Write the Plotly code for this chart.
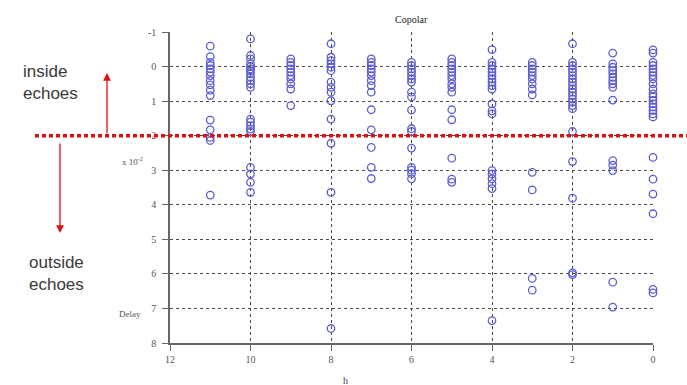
import plotly.graph_objects as go

# Delay values (x 10^-2) observed for each h
h_values = [11, 10, 9, 8, 7, 6, 5, 4, 3, 2, 1, 0]

delay_h11 = [-0.59, -0.29, -0.12, -0.03, 0.07, 0.16, 0.26, 0.41, 0.53, 0.68, 0.84,
             1.55, 1.83, 2.05, 2.14, 3.72]
delay_h10 = [-0.80, -0.32, -0.22, -0.08, 0.0, 0.07, 0.14, 0.21, 0.31, 0.41, 0.50, 0.60,
             1.52, 1.61, 1.71, 1.81, 1.88, 2.92, 3.11, 3.35, 3.64]
delay_h9 = [-0.22, -0.12, -0.03, 0.07, 0.16, 0.26, 0.36, 0.50, 0.65, 1.13]
delay_h8 = [-0.66, -0.27, -0.17, -0.08, 0.02, 0.12, 0.45, 0.60, 0.74, 0.99,
            1.52, 2.22, 3.64, 7.58]
delay_h7 = [-0.22, -0.12, -0.03, 0.07, 0.16, 0.26, 0.41, 0.55, 0.74,
            1.25, 1.83, 2.34, 2.92, 3.24]
delay_h6 = [-0.12, -0.03, 0.07, 0.16, 0.26, 0.36, 0.45, 0.74, 0.88, 1.26,
            1.80, 1.88, 2.36, 2.92, 3.00, 3.10, 3.25]
delay_h5 = [-0.22, -0.12, -0.03, 0.07, 0.16, 0.26, 0.36, 0.50, 0.60, 0.74,
            1.25, 1.54, 2.65, 3.26, 3.35]
delay_h4 = [-0.49, -0.12, -0.03, 0.07, 0.16, 0.26, 0.36, 0.45, 0.55, 0.65,
            1.08, 1.28, 1.37, 3.01, 3.11, 3.25, 3.39, 3.53, 7.35]
delay_h3 = [-0.12, -0.03, 0.07, 0.16, 0.26, 0.36, 0.50, 0.65, 0.82,
            3.06, 3.57, 6.13, 6.47]
delay_h2 = [-0.66, -0.12, -0.03, 0.07, 0.16, 0.26, 0.36, 0.45, 0.55, 0.65, 0.74,
            0.84, 0.94, 1.03, 1.13, 1.22, 1.88, 2.75, 3.81, 5.97, 6.02]
delay_h1 = [-0.39, -0.08, 0.02, 0.12, 0.21, 0.31, 0.41, 0.50, 0.60, 0.97,
            2.72, 2.85, 3.01, 6.24, 6.96]
delay_h0 = [-0.48, -0.39, -0.12, -0.03, 0.07, 0.16, 0.26, 0.36, 0.50, 0.65, 0.79,
            0.88, 0.98, 1.08, 1.17, 1.27, 1.37, 1.46, 2.63, 3.26, 3.69, 4.26,
            6.45, 6.55]

delay_columns = [delay_h11, delay_h10, delay_h9, delay_h8, delay_h7, delay_h6,
                 delay_h5, delay_h4, delay_h3, delay_h2, delay_h1, delay_h0]

x_ticks = [12, 10, 8, 6, 4, 2, 0]
y_ticks = [-1, 0, 1, 2, 3, 4, 5, 6, 7, 8]
threshold_delay = 2

xs, ys = [], []
for h, col in zip(h_values, delay_columns):
    xs.extend([h] * len(col))
    ys.extend(col)

fig = go.Figure()
fig.add_trace(go.Scatter(
    x=xs, y=ys, mode="markers", cliponaxis=False, showlegend=False,
    marker=dict(symbol="circle-open", size=7.5, color="#5c5cd2",
                line=dict(width=1.3, color="#5c5cd2")),
))

# red threshold line separating inside and outside echoes
fig.add_shape(type="line", xref="paper", yref="y",
              x0=-0.2795, x1=1.0704, y0=threshold_delay, y1=threshold_delay,
              line=dict(color="#e01010", width=3.5, dash="4px,3px"), layer="above")

grid_style = dict(showgrid=True, gridcolor="#4a4a4a", gridwidth=1, griddash="3px,3px",
                  zeroline=False, showline=True, linecolor="#666666", linewidth=1.5,
                  ticks="outside", ticklen=6, tickcolor="#666666",
                  tickfont=dict(family="Liberation Serif", size=10, color="#555555"))

fig.update_xaxes(range=[12, 0], tickvals=x_ticks, ticktext=[str(v) for v in x_ticks],
                 **grid_style)
fig.update_yaxes(range=[8, -1], tickvals=y_ticks, ticktext=[str(v) for v in y_ticks],
                 ticklabelstandoff=4, **grid_style)

annotations = [
    dict(text="Copolar", x=0.5, y=1.0386, xref="paper", yref="paper",
         xanchor="center", yanchor="middle", showarrow=False,
         font=dict(family="Liberation Serif", size=10, color="#222222")),
    dict(text="h", x=7.65, y=-0.119, xref="x", yref="paper",
         xanchor="center", yanchor="middle", showarrow=False,
         font=dict(family="Liberation Serif", size=10, color="#444444")),
    dict(text="x 10<sup>-2</sup>", x=-0.051, y=0.585, xref="paper", yref="paper",
         xanchor="right", yanchor="middle", showarrow=False,
         font=dict(family="Liberation Serif", size=9, color="#555555")),
    dict(text="Delay", x=-0.055, y=0.094, xref="paper", yref="paper",
         xanchor="right", yanchor="middle", showarrow=False,
         font=dict(family="Liberation Serif", size=9, color="#555555")),
    dict(text="inside<br>echoes", x=-0.3085, y=0.839, xref="paper", yref="paper",
         xanchor="left", yanchor="middle", align="left", showarrow=False,
         font=dict(family="Liberation Sans", size=17, color="#3a3a3a")),
    dict(text="outside<br>echoes", x=-0.296, y=0.225, xref="paper", yref="paper",
         xanchor="left", yanchor="middle", align="left", showarrow=False,
         font=dict(family="Liberation Sans", size=17, color="#3a3a3a")),
    # arrows
    dict(text="", x=-0.1304, y=0.868, xref="paper", yref="paper",
         ax=0, ay=62, axref="pixel", ayref="pixel", showarrow=True,
         arrowhead=2, arrowsize=1.2, arrowwidth=1.3, arrowcolor="#e01010"),
    dict(text="", x=-0.2277, y=0.3537, xref="paper", yref="paper",
         ax=0, ay=-91, axref="pixel", ayref="pixel", showarrow=True,
         arrowhead=2, arrowsize=1.2, arrowwidth=1.3, arrowcolor="#e01010"),
]

fig.update_layout(
    width=687, height=385,
    margin=dict(l=170, r=34, t=32, b=42),
    paper_bgcolor="white", plot_bgcolor="white",
    annotations=annotations,
    font=dict(family="Liberation Serif"),
)

fig.write_html("out.html")
